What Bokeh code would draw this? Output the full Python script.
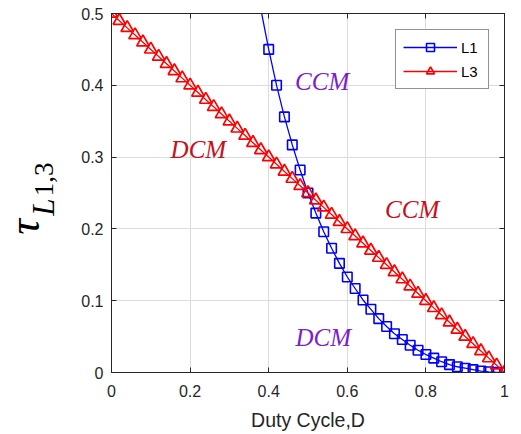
import math
from bokeh.plotting import figure
from bokeh.layouts import row
from bokeh.models import Range1d, LinearAxis, Label, Legend, LegendItem, FixedTicker
from bokeh.embed import file_html
from bokeh.resources import INLINE

# ---- data ----
D_L3 = [0.00, 0.02, 0.04, 0.06, 0.08, 0.10, 0.12, 0.14, 0.16, 0.18,
        0.20, 0.22, 0.24, 0.26, 0.28, 0.30, 0.32, 0.34, 0.36, 0.38,
        0.40, 0.42, 0.44, 0.46, 0.48, 0.50, 0.52, 0.54, 0.56, 0.58,
        0.60, 0.62, 0.64, 0.66, 0.68, 0.70, 0.72, 0.74, 0.76, 0.78,
        0.80, 0.82, 0.84, 0.86, 0.88, 0.90, 0.92, 0.94, 0.96, 0.98, 1.00]
tau_L3 = [0.500, 0.490, 0.480, 0.470, 0.460, 0.450, 0.440, 0.430, 0.420, 0.410,
          0.400, 0.390, 0.380, 0.370, 0.360, 0.350, 0.340, 0.330, 0.320, 0.310,
          0.300, 0.290, 0.280, 0.270, 0.260, 0.250, 0.240, 0.230, 0.220, 0.210,
          0.200, 0.190, 0.180, 0.170, 0.160, 0.150, 0.140, 0.130, 0.120, 0.110,
          0.100, 0.090, 0.080, 0.070, 0.060, 0.050, 0.040, 0.030, 0.020, 0.010, 0.000]

D_L1 = [0.38, 0.40, 0.42, 0.44, 0.46, 0.48, 0.50, 0.52, 0.54, 0.56,
        0.58, 0.60, 0.62, 0.64, 0.66, 0.68, 0.70, 0.72, 0.74, 0.76,
        0.78, 0.80, 0.82, 0.84, 0.86, 0.88, 0.90, 0.92, 0.94, 0.96, 0.98, 1.00]
tau_L1 = [0.506, 0.450, 0.400, 0.356, 0.317, 0.282, 0.250, 0.222, 0.196, 0.173,
          0.152, 0.133, 0.117, 0.101, 0.088, 0.075, 0.064, 0.054, 0.046, 0.038,
          0.031, 0.025, 0.020, 0.015, 0.011, 0.008, 0.006, 0.004, 0.002, 0.001, 0.0002, 0.000]

x_ticks = [0, 0.2, 0.4, 0.6, 0.8, 1.0]
x_tick_labels = ["0", "0.2", "0.4", "0.6", "0.8", "1"]
y_ticks = [0, 0.1, 0.2, 0.3, 0.4, 0.5]
y_tick_labels = ["0", "0.1", "0.2", "0.3", "0.4", "0.5"]

annotations = [
    ("CCM", 0.536, 0.405, "#7B1FCF"),
    ("DCM", 0.221, 0.311, "#C8101A"),
    ("CCM", 0.765, 0.227, "#C8101A"),
    ("DCM", 0.539, 0.049, "#7B1FCF"),
]

AX = "#262626"
SANS = "Liberation Sans"
SERIF = "Liberation Serif"
LEFT_W = 70
H = 434

# ---- narrow left panel holding the y-axis title tau_{L1,3} (pixel coordinates, y up) ----
lf = figure(width=LEFT_W, height=H, output_backend="svg", toolbar_location=None,
            x_range=Range1d(0, LEFT_W), y_range=Range1d(0, H),
            x_axis_location=None, y_axis_location=None)
lf.grid.visible = False
lf.outline_line_color = None
lf.min_border = 0
lf.background_fill_color = "white"
lf.border_fill_color = "white"
for txt, x, y, size, style in (("τ", 24, H - 258, "44px", "italic"),
                               ("L", 43, H - 234, "31px", "italic"),
                               ("1,3", 43.5, H - 200.5, "27px", "normal")):
    lf.add_layout(Label(x=x, y=y, text=txt, text_font=SERIF, text_font_style=style,
                        text_font_size=size, text_color="black", angle=math.pi / 2,
                        text_align="center", text_baseline="middle"))

# ---- main plot ----
p = figure(width=521 - LEFT_W, height=H, output_backend="svg", toolbar_location=None,
           x_range=Range1d(0, 1), y_range=Range1d(0, 0.5))
p.min_border_left = 111 - LEFT_W
p.min_border_right = 17
p.min_border_top = 13
p.min_border_bottom = 62
p.background_fill_color = "white"
p.border_fill_color = "white"
p.outline_line_color = AX
p.outline_line_width = 1

p.xaxis.axis_label = "Duty Cycle,D"
p.xaxis.axis_label_text_font = SANS
p.xaxis.axis_label_text_font_style = "normal"
p.xaxis.axis_label_text_font_size = "19.5px"
p.xaxis.axis_label_text_color = AX
p.xaxis.axis_label_standoff = 9

for ax, ticks, labels in ((p.xaxis[0], x_ticks, x_tick_labels), (p.yaxis[0], y_ticks, y_tick_labels)):
    ax.ticker = FixedTicker(ticks=ticks)
    ax.major_label_overrides = {t: l for t, l in zip(ticks, labels)}
    ax.major_label_text_font = SANS
    ax.major_label_text_font_size = "16px"
    ax.major_label_text_color = AX
    ax.axis_line_color = AX
    ax.major_tick_line_color = AX
    ax.major_tick_in = 5
    ax.major_tick_out = 0
    ax.minor_tick_line_color = None
p.xaxis.major_label_standoff = 12
p.yaxis.major_label_standoff = 8

for loc, ticks in (("above", x_ticks), ("right", y_ticks)):
    a = LinearAxis(ticker=FixedTicker(ticks=ticks), major_label_text_font_size="0px",
                   major_label_text_alpha=0, axis_line_color=AX, major_tick_line_color=AX,
                   major_tick_in=5, major_tick_out=0, minor_tick_line_color=None,
                   major_label_standoff=0)
    p.add_layout(a, loc)

p.xgrid.ticker = FixedTicker(ticks=x_ticks)
p.ygrid.ticker = FixedTicker(ticks=y_ticks)
p.grid.grid_line_color = "#dcdcdc"
p.grid.grid_line_width = 1

# L1
l1_line = p.line(D_L1, tau_L1, line_color="#0000FF", line_width=1.3)
l1_mk = p.scatter(D_L1[1:], tau_L1[1:], marker="square", size=9.5, fill_color=None,
                  line_color="#0000FF", line_width=1.6)
# L3
l3_line = p.line(D_L3, tau_L3, line_color="#FF0000", line_width=1.3)
l3_mk = p.scatter(D_L3, tau_L3, marker="triangle", size=12.5, fill_color=None,
                  line_color="#FF0000", line_width=1.7)

for txt, x, y, c in annotations:
    p.add_layout(Label(x=x, y=y, text=txt, text_font=SERIF, text_font_style="italic",
                       text_font_size="25px", text_color=c, text_align="center",
                       text_baseline="middle"))

legend = Legend(items=[LegendItem(label="L1", renderers=[l1_line, l1_mk]),
                       LegendItem(label="L3", renderers=[l3_line, l3_mk])],
                location=(284, 283))
legend.label_text_font = SANS
legend.label_text_font_size = "15px"
legend.label_text_color = "black"
legend.glyph_width = 54
legend.glyph_height = 20
legend.label_standoff = 4
legend.padding = 7
legend.spacing = 4
legend.margin = 0
legend.border_line_color = AX
legend.border_line_width = 1
legend.background_fill_color = "white"
legend.background_fill_alpha = 1
p.add_layout(legend)

layout = row(lf, p, spacing=0)
open("out.html", "w").write(file_html(layout, INLINE))
